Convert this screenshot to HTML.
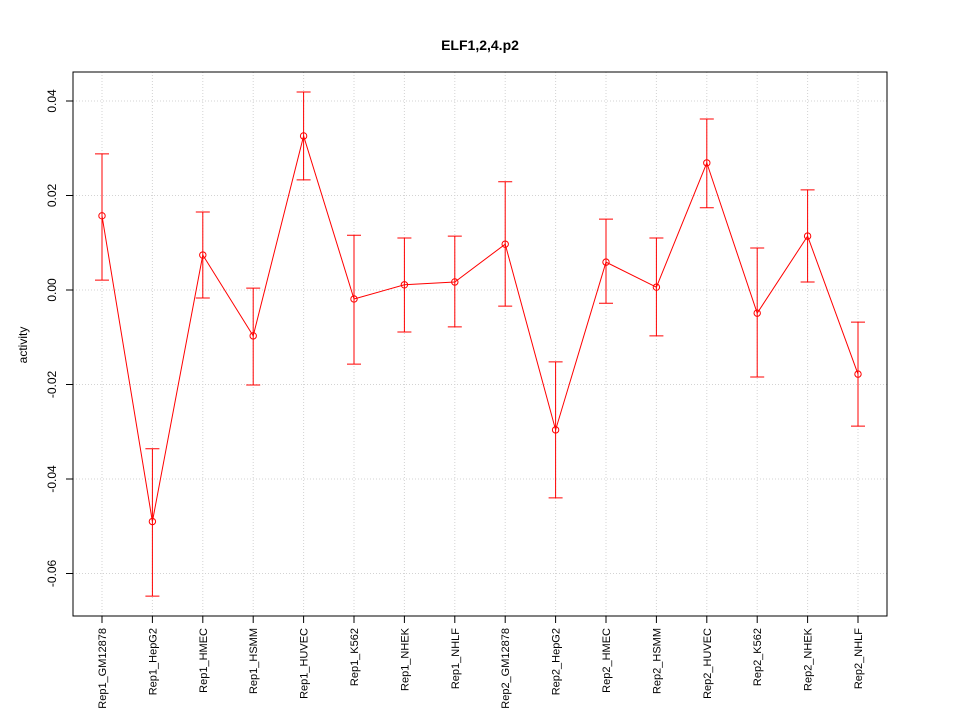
<!DOCTYPE html>
<html><head><meta charset="utf-8"><style>
body{margin:0;background:#fff;}
svg text{font-family:"Liberation Sans",Arial,sans-serif;}
</style></head><body>
<svg id="chart" width="960" height="720" xmlns="http://www.w3.org/2000/svg">
<rect width="960" height="720" fill="#fff"/>
<text x="480" y="50" text-anchor="middle" font-size="14" font-weight="bold">ELF1,2,4.p2</text>
<text transform="translate(27,345) rotate(-90)" text-anchor="middle" font-size="12">activity</text>
<g id="grid"></g>
<g id="axes"></g>
<g id="marks"></g>
<rect x="73" y="72" width="814" height="544" fill="none" stroke="#000"/>
</svg>
<script>
const categories=["Rep1_GM12878","Rep1_HepG2","Rep1_HMEC","Rep1_HSMM","Rep1_HUVEC","Rep1_K562","Rep1_NHEK","Rep1_NHLF","Rep2_GM12878","Rep2_HepG2","Rep2_HMEC","Rep2_HSMM","Rep2_HUVEC","Rep2_K562","Rep2_NHEK","Rep2_NHLF"];
const values=[0.0157,-0.049,0.0074,-0.0097,0.0326,-0.0019,0.0011,0.0017,0.0097,-0.0296,0.0059,0.0006,0.0269,-0.0049,0.0114,-0.0178];
const upper=[0.0288,-0.0336,0.0165,0.0004,0.0419,0.0116,0.011,0.0114,0.0229,-0.0152,0.015,0.011,0.0362,0.0089,0.0212,-0.0068];
const lower=[0.0021,-0.0648,-0.0017,-0.0201,0.0233,-0.0157,-0.0089,-0.0078,-0.0034,-0.044,-0.0028,-0.0097,0.0174,-0.0184,0.0017,-0.0288];
const yTicks=[0.04,0.02,0.00,-0.02,-0.04,-0.06];
const yTickLabels=["0.04","0.02","0.00","-0.02","-0.04","-0.06"];

const NS="http://www.w3.org/2000/svg";
function yS(v){return 290-v*4725;}
function xS(i){return 102+i*(858-102)/(categories.length-1);}
function mk(parent,tag,attrs){const e=document.createElementNS(NS,tag);for(const k in attrs)e.setAttribute(k,attrs[k]);document.getElementById(parent).appendChild(e);return e;}

categories.forEach((c,i)=>{
  const g=mk('grid','line',{x1:xS(i),x2:xS(i),y1:72,y2:616,stroke:'#d3d3d3','stroke-dasharray':'1,2'});
  
  
  const t=mk('axes','line',{x1:xS(i),x2:xS(i),y1:616,y2:623,stroke:'#000'});
  
  
  const l=mk('axes','text',{transform:`translate(${xS(i)+4},628) rotate(-90)`,'text-anchor':'end','font-size':'11'});
  l.textContent=c;
  
  
});
yTicks.forEach((v,i)=>{
  const g=mk('grid','line',{x1:73,x2:887,y1:yS(v),y2:yS(v),stroke:'#d3d3d3','stroke-dasharray':'1,2'});
  
  
  const t=mk('axes','line',{x1:66,x2:73,y1:yS(v),y2:yS(v),stroke:'#000'});
  
  
  const l=mk('axes','text',{transform:`translate(${56},${yS(v)}) rotate(-90)`,'text-anchor':'middle','font-size':'12'});
  l.textContent=yTickLabels[i];
  
  
});
const pl=mk('marks','polyline',{points:values.map((v,i)=>xS(i)+','+yS(v)).join(' '),fill:'none',stroke:'#ff0000'});


values.forEach((v,i)=>{
  const x=xS(i);
  const e=mk('marks','path',{d:`M${x},${yS(upper[i])}V${yS(lower[i])}M${x-7},${yS(upper[i])}H${x+7}M${x-7},${yS(lower[i])}H${x+7}`,stroke:'#ff0000',fill:'none'});
  
  
  const p=mk('marks','circle',{cx:x,cy:yS(v),r:3.2,fill:'none',stroke:'#ff0000'});
  
  
});
</script>
</body></html>
